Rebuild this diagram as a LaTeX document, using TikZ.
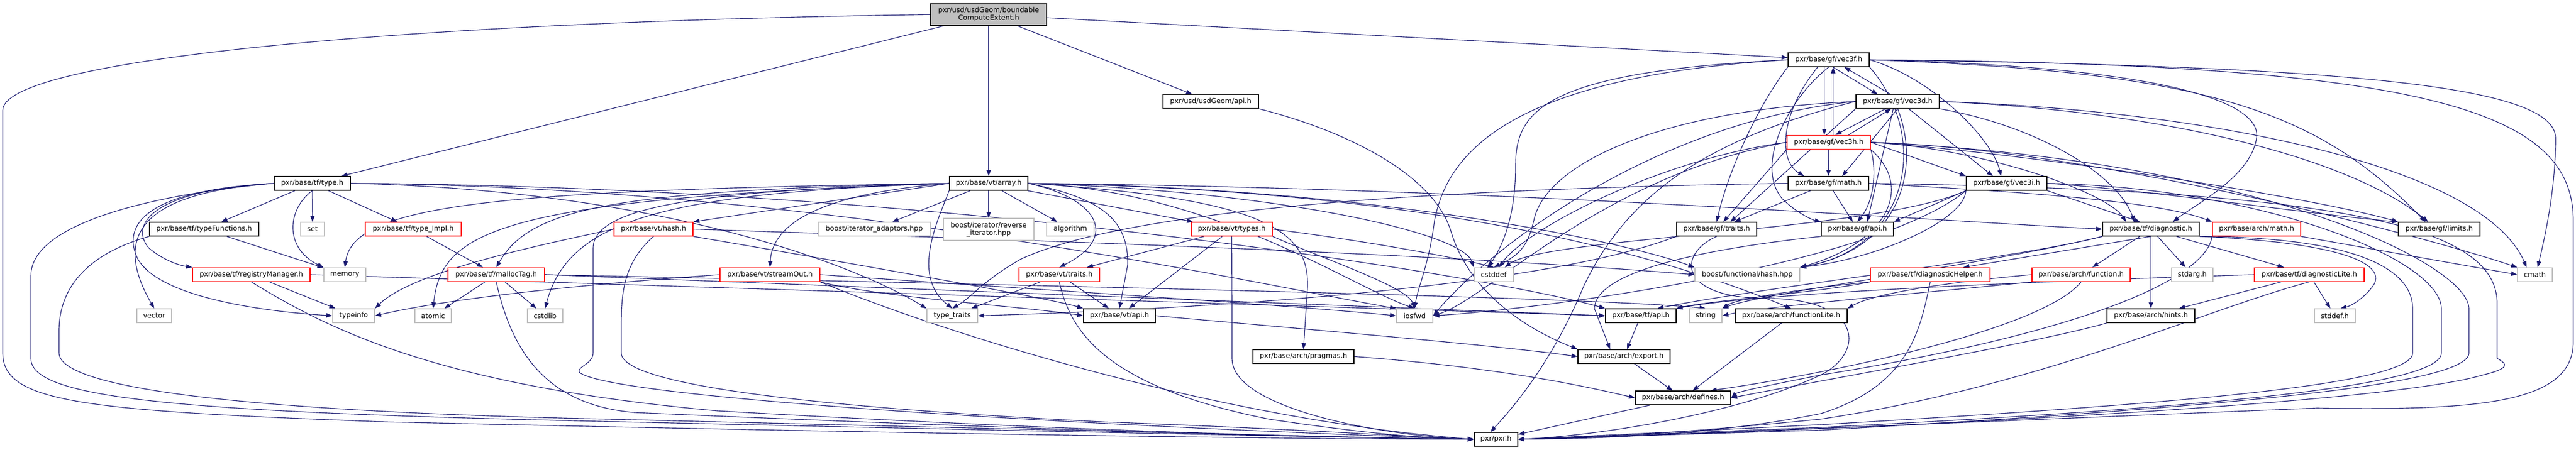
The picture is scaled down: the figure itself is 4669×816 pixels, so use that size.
\documentclass[tikz,border=0pt]{standalone}
\usepackage{fontspec}
\setmainfont{DejaVu Sans}
\usetikzlibrary{arrows.meta}
\definecolor{ec}{HTML}{191970}
\definecolor{gb}{HTML}{BFBFBF}
\pgfdeclarelayer{bg}
\pgfsetlayers{bg,main}
\tikzset{
  nd/.style={draw=black, line width=1.5pt, fill=white, minimum height=25pt, inner sep=0pt, font=\fontsize{12.6}{14}\selectfont},
  ext/.style={nd, draw=gb},
  trunc/.style={nd, draw=red},
  rootn/.style={nd, fill=gb, minimum height=39pt, align=center},
  ed/.style={draw=ec, line width=1.15pt, -{Triangle[length=11pt,width=8pt]}},
}
\begin{document}
\begin{tikzpicture}[x=1pt,y=-1pt]
\useasboundingbox (0,0) rectangle (4669,816);
% ---------- nodes ----------
\node[rootn, minimum width=210pt] (root) at (1792,26.5) {pxr/usd/usdGeom/boundable\\ComputeExtent.h};
\node[nd, minimum width=147pt] (vec3f) at (3314.5,108.5) {pxr/base/gf/vec3f.h};
\node[nd, minimum width=173pt] (ugapi) at (2194.5,184) {pxr/usd/usdGeom/api.h};
\node[nd, minimum width=151pt] (vec3d) at (3439.5,184) {pxr/base/gf/vec3d.h};
\node[trunc, minimum width=151pt] (vec3h) at (3314.5,258) {pxr/base/gf/vec3h.h};
\node[nd, minimum width=138pt] (type) at (566,332.5) {pxr/base/tf/type.h};
\node[nd, minimum width=142pt] (array) at (1792,332.5) {pxr/base/vt/array.h};
\node[nd, minimum width=146pt] (math) at (3314,332.5) {pxr/base/gf/math.h};
\node[nd, minimum width=146pt] (vec3i) at (3637,332.5) {pxr/base/gf/vec3i.h};
\node[nd, minimum width=198pt] (typefn) at (370,415.5) {pxr/base/tf/typeFunctions.h};
\node[ext, minimum width=43pt] (set) at (566.5,415.5) {set};
\node[trunc, minimum width=174pt] (typeimpl) at (749,415.5) {pxr/base/tf/type\_Impl.h};
\node[trunc, minimum width=143pt] (vthash) at (1184.5,415.5) {pxr/base/vt/hash.h};
\node[ext, minimum width=203pt] (badapt) at (1584.5,415.5) {boost/iterator\_adaptors.hpp};
\node[ext, minimum width=164pt, minimum height=40pt, align=center] (brev) at (1792,416) {boost/iterator/reverse\\\_iterator.hpp};
\node[ext, minimum width=86pt] (algo) at (1940,415.5) {algorithm};
\node[trunc, minimum width=147pt] (vttypes) at (2232.5,415.5) {pxr/base/vt/types.h};
\node[nd, minimum width=145pt] (gftraits) at (3111.5,415.5) {pxr/base/gf/traits.h};
\node[nd, minimum width=131pt] (gfapi) at (3366.5,415.5) {pxr/base/gf/api.h};
\node[nd, minimum width=175pt] (diag) at (3898.5,415.5) {pxr/base/tf/diagnostic.h};
\node[trunc, minimum width=160pt] (amath) at (4090,415.5) {pxr/base/arch/math.h};
\node[nd, minimum width=148pt] (limits) at (4421,415.5) {pxr/base/gf/limits.h};
\node[trunc, minimum width=213pt] (regmgr) at (455.5,498) {pxr/base/tf/registryManager.h};
\node[ext, minimum width=76pt] (memory) at (625,498) {memory};
\node[trunc, minimum width=175pt] (malloc) at (899.5,498) {pxr/base/tf/mallocTag.h};
\node[trunc, minimum width=181pt] (streamout) at (1395.5,498) {pxr/base/vt/streamOut.h};
\node[trunc, minimum width=146pt] (vttraits) at (1920,498) {pxr/base/vt/traits.h};
\node[ext, minimum width=71pt] (cstddef) at (2707.5,498) {cstddef};
\node[ext, minimum width=190pt] (bhash) at (3167,498) {boost/functional/hash.hpp};
\node[trunc, minimum width=217pt] (dhelper) at (3498.5,498) {pxr/base/tf/diagnosticHelper.h};
\node[trunc, minimum width=178pt] (afunc) at (3772,498) {pxr/base/arch/function.h};
\node[ext, minimum width=75pt] (stdarg) at (3973.5,498) {stdarg.h};
\node[trunc, minimum width=199pt] (dlite) at (4185.5,498) {pxr/base/tf/diagnosticLite.h};
\node[ext, minimum width=63pt] (cmath) at (4594.5,498) {cmath};
\node[ext, minimum width=63pt] (vector) at (279.5,572.5) {vector};
\node[ext, minimum width=76pt] (typeinfo) at (641,572.5) {typeinfo};
\node[ext, minimum width=66pt] (atomic) at (785,572.5) {atomic};
\node[ext, minimum width=64pt] (cstdlib) at (988,572.5) {cstdlib};
\node[ext, minimum width=92pt] (ttraits) at (1726,572.5) {type\_traits};
\node[nd, minimum width=130pt] (vtapi) at (2029,572.5) {pxr/base/vt/api.h};
\node[ext, minimum width=66pt] (iosfwd) at (2564,572.5) {iosfwd};
\node[nd, minimum width=128pt] (tfapi) at (2974,572.5) {pxr/base/tf/api.h};
\node[ext, minimum width=59pt] (string) at (3091.5,572.5) {string};
\node[nd, minimum width=203pt] (flite) at (3246.5,572.5) {pxr/base/arch/functionLite.h};
\node[nd, minimum width=159pt] (hints) at (3898.5,572.5) {pxr/base/arch/hints.h};
\node[ext, minimum width=74pt] (stddef) at (4232,572.5) {stddef.h};
\node[nd, minimum width=183pt] (pragmas) at (2362.5,646.5) {pxr/base/arch/pragmas.h};
\node[nd, minimum width=167pt] (export) at (2943.5,646.5) {pxr/base/arch/export.h};
\node[nd, minimum width=173pt] (defines) at (3050.5,721.5) {pxr/base/arch/defines.h};
\node[nd, minimum width=79pt] (pxrh) at (2711.5,796.5) {pxr/pxr.h};
% ---------- edges ----------
\begin{pgfonlayer}{bg}
% root
\draw[ed] (root) -- (type);
\draw[ed] (root) -- (array);
\draw[ed] (root) -- (ugapi);
\draw[ed] (root) -- (vec3f);
\draw[ed] (root.west) .. controls (700,40) and (5,110) .. (5,200) -- (5,640) .. controls (5,730) and (150,745) .. (700,765) .. controls (1800,790) and (2400,796) .. (pxrh.west);
% usdGeom api
\draw[ed] (ugapi.south east) .. controls (2450,240) and (2600,320) .. (2630,420) .. controls (2660,520) and (2750,590) .. (export.north west);
% type
\draw[ed] (type) -- (typefn);
\draw[ed] (type) -- (set);
\draw[ed] (type) -- (typeimpl);
\draw[ed] (type.south) .. controls (520,380) and (515,450) .. (memory.north west);
\draw[ed] (type.west) .. controls (250,350) and (205,430) .. (vector.north);
\draw[ed] (type.west) .. controls (260,345) and (220,410) .. (250,470) .. controls (290,540) and (480,565) .. (typeinfo.west);
\draw[ed] (type.west) .. controls (270,345) and (235,410) .. (270,450) .. controls (300,475) and (330,482) .. (regmgr.north west);
\draw[ed] (type.west) .. controls (300,350) and (56,400) .. (56,500) -- (56,650) .. controls (56,720) and (300,745) .. (1000,762) .. controls (2000,785) and (2500,794) .. (pxrh.west);
\draw[ed] (type.east) .. controls (1200,345) and (1550,480) .. (ttraits.north west);
\draw[ed] (type.east) .. controls (1500,338) and (2300,520) .. (iosfwd.north west);
\draw[ed] (type.east) .. controls (1700,338) and (2700,500) .. (tfapi.north west);
% typeFunctions
\draw[ed] (typefn) -- (memory);
\draw[ed] (typefn.south west) .. controls (160,460) and (107,520) .. (107,600) -- (107,640) .. controls (107,700) and (400,745) .. (1100,760) .. controls (2000,782) and (2500,794) .. (pxrh.west);
% type_Impl
\draw[ed] (typeimpl) -- (malloc);
% registryManager
\draw[ed] (regmgr) -- (typeinfo);
\draw[ed] (regmgr.east) -- (tfapi.west);
\draw[ed] (regmgr.south) .. controls (600,600) and (800,700) .. (1300,745) .. controls (2000,785) and (2500,795) .. (pxrh.west);
% mallocTag
\draw[ed] (malloc) -- (atomic);
\draw[ed] (malloc) -- (cstdlib);
\draw[ed] (malloc.east) -- (tfapi.west);
\draw[ed] (malloc.east) .. controls (2000,520) and (2900,540) .. (string.north);
\draw[ed] (malloc.south) .. controls (930,650) and (1000,735) .. (1150,748) .. controls (2000,785) and (2500,795) .. (pxrh.west);
% vt/hash
\draw[ed] (vthash.west) .. controls (1000,440) and (750,490) .. (typeinfo.north east);
\draw[ed] (vthash.east) .. controls (2000,440) and (2600,460) .. (bhash.west);
\draw[ed] (vthash.south east) .. controls (1500,470) and (1900,540) .. (vtapi.north west);
\draw[ed] (vthash.south) .. controls (1126,480) and (1126,540) .. (1126,600) -- (1126,640) .. controls (1126,700) and (1500,740) .. (2000,765) .. controls (2400,780) and (2550,792) .. (pxrh.west);
% streamOut
\draw[ed] (streamout.west) .. controls (1000,520) and (800,545) .. (typeinfo.east);
\draw[ed] (streamout.east) .. controls (1800,520) and (2300,550) .. (iosfwd.west);
\draw[ed] (streamout.south east) .. controls (1600,540) and (1850,555) .. (vtapi.west);
\draw[ed] (streamout.south east) .. controls (1700,600) and (2200,760) .. (pxrh.west);
% array
\draw[ed] (array) -- (brev);
\draw[ed] (array) -- (badapt);
\draw[ed] (array) -- (algo);
\draw[ed] (array) -- (vttypes);
\draw[ed] (array.east) .. controls (1990,360) and (2030,430) .. (vttraits.north);
\draw[ed] (array.east) .. controls (2000,360) and (2045,400) .. (2044,480) -- (vtapi.north);
\draw[ed] (array.east) .. controls (2300,360) and (2372,420) .. (2370,520) -- (pragmas.north);
\draw[ed] (array.west) .. controls (1300,345) and (1075,370) .. (1075,450) -- (1075,640) .. controls (1075,660) and (1045,665) .. (1050,675) .. controls (1100,720) and (1900,770) .. (pxrh.west);
\draw[ed] (array.west) -- (vthash.north east);
\draw[ed] (array.west) .. controls (1500,350) and (1400,400) .. (streamout.north);
\draw[ed] (array.west) .. controls (1100,345) and (960,380) .. (malloc.north);
\draw[ed] (array.west) .. controls (1200,350) and (1030,400) .. (cstdlib.north);
\draw[ed] (array.west) .. controls (900,360) and (800,420) .. (atomic.north);
\draw[ed] (array.west) .. controls (900,345) and (640,370) .. (memory.north);
\draw[ed] (array.south west) .. controls (1700,400) and (1650,500) .. (ttraits.north);
\draw[ed] (array.east) .. controls (2300,345) and (2650,420) .. (cstddef.north west);
\draw[ed] (array.east) .. controls (2500,340) and (2950,440) .. (bhash.north west);
\draw[ed] (array.east) .. controls (2700,345) and (3100,500) .. (flite.north);
\draw[ed] (array.east) .. controls (2700,340) and (3500,400) .. (diag.west);
\draw[ed] (array.east) .. controls (2200,345) and (2450,520) .. (iosfwd.north);
% vt/types
\draw[ed] (vttypes) -- (vttraits);
\draw[ed] (vttypes) -- (vtapi);
\draw[ed] (vttypes.east) .. controls (2500,440) and (2650,470) .. (cstddef.north);
\draw[ed] (vttypes.south east) .. controls (2400,470) and (2550,520) .. (iosfwd.north);
\draw[ed] (vttypes.south) .. controls (2233,520) and (2233,600) .. (2233,650) .. controls (2233,740) and (2500,790) .. (pxrh.west);
% vt/traits
\draw[ed] (vttraits) -- (ttraits);
\draw[ed] (vttraits) -- (vtapi);
\draw[ed] (vttraits.south) .. controls (1940,600) and (2000,700) .. (2300,760) .. controls (2500,790) and (2600,795) .. (pxrh.west);
% vt/api, pragmas
\draw[ed] (vtapi.east) .. controls (2400,600) and (2700,625) .. (export.west);
\draw[ed] (pragmas.east) .. controls (2700,665) and (2850,695) .. (defines.west);
% vec3f / vec3d / vec3h cycle
\draw[ed] (vec3f.-60) -- (vec3d.160);
\draw[ed] (vec3d.135) -- (vec3f.-25);
\draw[ed] ([xshift=-8pt]vec3f.south) -- ([xshift=-8pt]vec3h.north);
\draw[ed] ([xshift=8pt]vec3h.north) -- ([xshift=8pt]vec3f.south);
\draw[ed] ([xshift=-22pt]vec3d.south) -- ([xshift=12pt]vec3h.north);
\draw[ed] ([xshift=36pt]vec3h.north) -- ([xshift=-12pt]vec3d.south);
% to math
\draw[ed] ([xshift=-20pt]vec3f.south) .. controls (3230,200) and (3220,290) .. ([xshift=-44pt]math.north);
\draw[ed] (vec3h) -- (math);
\draw[ed] (vec3d.south) -- ([xshift=25pt]math.north);
% to gf traits
\draw[ed] (vec3f.south west) .. controls (3180,200) and (3130,320) .. (gftraits.north);
\draw[ed] (vec3d.south west) -- ([xshift=25pt]gftraits.north);
\draw[ed] (vec3h.south west) -- ([xshift=12pt]gftraits.north);
\draw[ed] (math) -- (gftraits);
% to gf api
\draw[ed] (vec3f.south) .. controls (3240,180) and (3180,300) .. (3230,360) .. controls (3260,390) and (3290,400) .. (gfapi.north west);
\draw[ed] ([xshift=-8pt]vec3d.south) -- ([xshift=18pt]gfapi.north);
\draw[ed] (vec3h.south east) .. controls (3400,300) and (3400,360) .. (gfapi.north);
\draw[ed] (math) -- (gfapi);
\draw[ed] (vec3i.south west) -- (gfapi.north east);
% to vec3i
\draw[ed] (vec3f.east) .. controls (3500,140) and (3610,250) .. ([xshift=-10pt]vec3i.north);
\draw[ed] ([xshift=20pt]vec3d.south) -- ([xshift=-25pt]vec3i.north);
\draw[ed] (vec3h.east) -- (vec3i.north west);
% to diagnostic
\draw[ed] (vec3f.east) .. controls (3900,120) and (4100,180) .. (4090,250) .. controls (4080,320) and (3980,370) .. ([xshift=40pt]diag.north);
\draw[ed] (vec3d.south east) .. controls (3700,230) and (3840,320) .. ([xshift=-30pt]diag.north);
\draw[ed] (vec3h.east) .. controls (3600,270) and (3820,350) .. ([xshift=-45pt]diag.north);
\draw[ed] (vec3i.south east) -- ([xshift=-20pt]diag.north);
% to limits
\draw[ed] (vec3f.east) .. controls (4000,130) and (4200,200) .. ([xshift=-25pt]limits.north);
\draw[ed] (vec3d.east) .. controls (3900,200) and (4250,280) .. ([xshift=-20pt]limits.north);
\draw[ed] (vec3h.east) .. controls (3700,280) and (4200,360) .. (limits.north west);
\draw[ed] (vec3i.east) .. controls (3900,345) and (4200,390) .. (limits.north west);
% to cmath
\draw[ed] (vec3f.east) .. controls (4300,120) and (4630,160) .. (4632,250) .. controls (4632,350) and (4610,440) .. ([xshift=5pt]cmath.north);
\draw[ed] (vec3d.east) .. controls (4000,200) and (4500,300) .. ([xshift=-15pt]cmath.north);
\draw[ed] (vec3h.east) .. controls (3800,270) and (4400,430) .. (cmath.north west);
\draw[ed] (amath.south east) -- (cmath.west);
% to boost hash
\draw[ed] (vec3f.south east) .. controls (3500,250) and (3460,450) .. (bhash.north east);
\draw[ed] (vec3d.south) .. controls (3480,300) and (3450,450) .. (bhash.north east);
\draw[ed] (vec3h.south east) .. controls (3470,340) and (3420,440) .. (bhash.north east);
\draw[ed] (vec3i.south west) .. controls (3560,400) and (3400,470) .. (bhash.north east);
% to cstddef
\draw[ed] (vec3f.west) .. controls (2800,130) and (2747,200) .. (2747,300) .. controls (2747,400) and (2720,450) .. ([xshift=-10pt]cstddef.north);
\draw[ed] (vec3d.west) .. controls (3000,200) and (2800,300) .. (2780,400) .. controls (2770,440) and (2760,460) .. (cstddef.north);
\draw[ed] (vec3h.west) .. controls (3000,290) and (2760,420) .. ([xshift=10pt]cstddef.north);
\draw[ed] (vec3i.south west) .. controls (3400,420) and (2800,430) .. ([xshift=20pt]cstddef.north);
% to iosfwd
\draw[ed] (vec3f.west) .. controls (2700,140) and (2620,300) .. (2600,400) .. controls (2590,480) and (2570,520) .. (iosfwd.north);
\draw[ed] (vec3d.west) .. controls (3000,220) and (2700,450) .. (iosfwd.east);
\draw[ed] (vec3h.west) .. controls (2900,320) and (2700,540) .. (iosfwd.east);
\draw[ed] (vec3i.south west) .. controls (3400,480) and (2800,560) .. (iosfwd.east);
% gf math
\draw[ed] (math.west) .. controls (2400,345) and (2000,400) .. (1850,470) .. controls (1780,510) and (1760,540) .. (ttraits.north);
\draw[ed] (math.east) .. controls (3600,345) and (3900,360) .. (amath.north west);
% gf traits
\draw[ed] (gftraits.south west) .. controls (2800,520) and (2200,560) .. (ttraits.east);
\draw[ed] (gftraits.south) .. controls (3040,460) and (3040,540) .. (3200,541) .. controls (3380,541) and (3380,640) .. (3300,680) .. controls (3150,750) and (2900,790) .. (pxrh.east);
% gf api
\draw[ed] (gfapi.south west) .. controls (3100,450) and (2890,490) .. (2890,560) -- ([xshift=-25pt]export.north);
% diagnostic
\draw[ed] (diag) -- (hints);
\draw[ed] (diag) -- (stdarg);
\draw[ed] (diag) -- (afunc);
\draw[ed] (diag) -- (dlite);
\draw[ed] (diag.south) -- ([xshift=60pt]dhelper.north);
\draw[ed] (diag.south east) .. controls (4250,440) and (4330,480) .. (4300,520) .. controls (4280,545) and (4260,555) .. ([xshift=10pt]stddef.north);
\draw[ed] (diag.south west) .. controls (3650,470) and (3200,520) .. ([xshift=30pt]tfapi.north);
\draw[ed] (diag.south west) .. controls (3600,480) and (3200,530) .. (string.north east);
\draw[ed] (diag.south east) .. controls (4250,430) and (4373,480) .. (4373,560) -- (4373,640) .. controls (4373,700) and (3900,735) .. (3300,770) .. controls (3000,785) and (2850,792) .. (pxrh.east);
% diagnosticHelper
\draw[ed] (dhelper.south west) .. controls (3300,530) and (3100,545) .. (tfapi.north east);
\draw[ed] (dhelper.south west) .. controls (3300,520) and (3150,540) .. (string.north east);
\draw[ed] (dhelper.south) .. controls (3480,600) and (3460,700) .. (3300,750) .. controls (3100,790) and (2900,795) .. (pxrh.east);
% arch function
\draw[ed] (afunc.south west) .. controls (3500,530) and (3200,555) .. (string.east);
\draw[ed] (afunc.west) .. controls (3550,510) and (3400,530) .. (flite.north east);
\draw[ed] (afunc.south) .. controls (3700,600) and (3300,680) .. ([xshift=50pt]defines.north);
% diagnosticLite
\draw[ed] (dlite) -- (hints);
\draw[ed] (dlite) -- (stddef);
\draw[ed] (dlite.west) .. controls (3700,510) and (3200,530) .. (tfapi.north east);
\draw[ed] (dlite.south) .. controls (4000,560) and (3700,700) .. (3300,760) .. controls (3000,790) and (2850,795) .. (pxrh.east);
% arch math
\draw[ed] (amath.south west) .. controls (4000,500) and (3800,600) .. (3300,680) .. controls (3200,700) and (3150,710) .. (defines.east);
% hints, functionLite, tf api, export, defines
\draw[ed] (hints.south west) .. controls (3700,620) and (3300,690) .. (defines.east);
\draw[ed] (flite) -- (defines);
\draw[ed] (tfapi) -- (export);
\draw[ed] (export) -- (defines);
\draw[ed] (defines) -- (pxrh);
% loops into pxr.h from gf
\draw[ed] (vec3d.west) .. controls (3100,250) and (2950,350) .. (2870,520) .. controls (2820,640) and (2760,720) .. ([xshift=-10pt]pxrh.north);
\draw[ed] (vec3f.east) .. controls (4400,115) and (4664,200) .. (4664,400) -- (4664,620) .. controls (4664,730) and (4500,745) .. (4200,740) .. controls (3700,760) and (3000,790) .. (pxrh.east);
\draw[ed] (math.east) .. controls (4200,345) and (4526,400) .. (4526,550) -- (4526,650) .. controls (4545,660) and (4550,668) .. (4500,680) .. controls (4300,740) and (3200,785) .. (pxrh.east);
\draw[ed] (vec3h.east) .. controls (4100,290) and (4475,480) .. (4475,560) -- (4475,640) .. controls (4475,700) and (4000,740) .. (3300,780) -- (pxrh.east);
\draw[ed] (vec3i.east) .. controls (4100,340) and (4425,470) .. (4425,560) -- (4425,640) .. controls (4425,700) and (4000,740) .. (3300,775) -- (pxrh.east);
\end{pgfonlayer}
\end{tikzpicture}
\end{document}
